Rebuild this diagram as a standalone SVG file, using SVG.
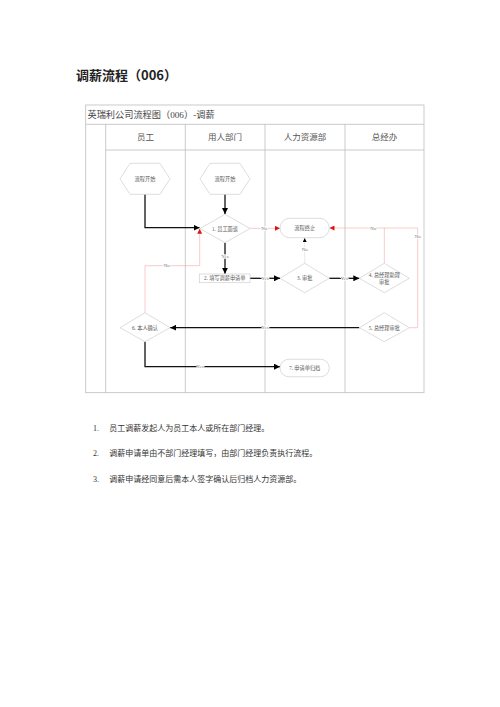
<svg xmlns="http://www.w3.org/2000/svg" width="500" height="707" viewBox="0 0 500 707">
<defs>
<style>
.frame{fill:none;stroke:#bdbdbd;stroke-width:0.8}
.node{fill:#fff;stroke:#cfcfcf;stroke-width:0.7}
.nt{font-family:"Liberation Serif","Noto Sans CJK SC",serif;font-size:5.2px;fill:#555;text-anchor:middle;dominant-baseline:central}
.hd{font-family:"Liberation Serif","Noto Sans CJK SC",serif;font-size:8.5px;fill:#555;text-anchor:middle;dominant-baseline:central}
.blk{fill:none;stroke:#111;stroke-width:1.3}
.red{fill:none;stroke:#f2a8a8;stroke-width:0.6}
.gry{fill:none;stroke:#e6d6d6;stroke-width:0.6}
.lb{font-family:"Liberation Serif","Noto Sans CJK SC",serif;font-size:5px;fill:#777;text-anchor:middle;dominant-baseline:central;stroke:#fff;stroke-width:1.6;paint-order:stroke}
.li{font-family:"Liberation Serif","Noto Sans CJK SC",serif;font-size:8px;fill:#333}
</style>
<marker id="ab" markerUnits="userSpaceOnUse" markerWidth="6" markerHeight="6" viewBox="0 0 10 10" refX="10" refY="5" orient="auto"><path d="M0,0 L10,5 L0,10 z" fill="#000"/></marker>
<marker id="ar" markerUnits="userSpaceOnUse" markerWidth="5" markerHeight="5" viewBox="0 0 10 10" refX="10" refY="5" orient="auto"><path d="M0,0 L10,5 L0,10 z" fill="#e31010"/></marker>
<marker id="as" markerUnits="userSpaceOnUse" markerWidth="4" markerHeight="4" viewBox="0 0 10 10" refX="10" refY="5" orient="auto"><path d="M0,0 L10,5 L0,10 z" fill="#000"/></marker>
</defs>
<rect width="500" height="707" fill="#fff"/>
<text x="76" y="80" font-family="'Noto Sans CJK SC',sans-serif" font-weight="bold" font-size="13" fill="#222">调薪流程（006）</text>

<g id="frame">
<rect class="frame" x="85.7" y="105" width="338.3" height="287.7"/>
<line class="frame" x1="85.7" y1="124.3" x2="424" y2="124.3"/>
<line class="frame" x1="105.7" y1="150" x2="424" y2="150"/>
<line class="frame" x1="105.7" y1="124.3" x2="105.7" y2="392.7"/>
<line class="frame" x1="185.3" y1="124.3" x2="185.3" y2="392.7"/>
<line class="frame" x1="265" y1="124.3" x2="265" y2="392.7"/>
<line class="frame" x1="345" y1="124.3" x2="345" y2="392.7"/>
<text x="87.5" y="115" font-family="'Liberation Serif','Noto Sans CJK SC',serif" font-size="9.2" fill="#444" dominant-baseline="central">英瑞利公司流程图（006）-调薪</text>
<text class="hd" x="145.5" y="137">员工</text>
<text class="hd" x="225" y="137">用人部门</text>
<text class="hd" x="305" y="137">人力资源部</text>
<text class="hd" x="384.5" y="137">总经办</text>
</g>

<g id="connectors">
<path class="blk" d="M145,194.3 V227.7 H199.5" marker-end="url(#ab)"/>
<path class="blk" d="M225,194.3 V214" marker-end="url(#ab)"/>
<path class="red" d="M250,228.3 H280" marker-end="url(#ar)"/>
<text class="lb" x="264.3" y="228.3">No</text>
<path class="blk" d="M225,242.7 V273.8" marker-end="url(#ab)"/>
<text class="lb" x="225" y="256.7">Yes</text>
<path class="blk" d="M250,278.3 H280" marker-end="url(#ab)"/>
<text class="lb" x="265" y="278.3">Yes</text>
<path class="gry" d="M304.7,263.3 V238" marker-end="url(#as)"/>
<text class="lb" x="304.7" y="249.7">No</text>
<path class="blk" d="M329.3,278.3 H359.3" marker-end="url(#ab)"/>
<text class="lb" x="344.3" y="278.3">Yes</text>
<path class="red" d="M384.3,263.3 V228 H329.5" marker-end="url(#ar)"/>
<text class="lb" x="373.3" y="228">No</text>
<path class="red" d="M409.3,327.7 H417.7 V228 H384.3"/>
<text class="lb" x="417.7" y="236.7">No</text>
<path class="blk" d="M359.3,327.7 H170.2" marker-end="url(#ab)"/>
<text class="lb" x="265" y="327.7">Yes</text>
<path class="red" d="M145,312.7 V265.7 H199.7 V228.8" marker-end="url(#ar)"/>
<text class="lb" x="166.7" y="265.7">No</text>
<path class="blk" d="M145,341.7 V366.7 H280" marker-end="url(#ab)"/>
<text class="lb" x="200" y="366.7">Yes</text>
</g>

<g id="start1">
<polygon class="node" points="120,178.8 130,163.3 160,163.3 170,178.8 160,194.3 130,194.3"/>
<text class="nt" x="145" y="178.8">流程开始</text>
</g>
<g id="start2">
<polygon class="node" points="200,178.8 210,163.3 240,163.3 250,178.8 240,194.3 210,194.3"/>
<text class="nt" x="225" y="178.8">流程开始</text>
</g>
<g id="n1">
<polygon class="node" points="200,228.5 225,214.3 250,228.5 225,242.7"/>
<text class="nt" x="225" y="228.5">1. 员工面谈</text>
</g>
<g id="stop">
<rect class="node" x="280" y="218.3" width="49.3" height="19.4" rx="9.7"/>
<text class="nt" x="304.7" y="228">流程终止</text>
</g>
<g id="n2">
<rect class="node" x="199.3" y="274" width="50.7" height="8.7"/>
<text class="nt" x="224.7" y="278.4">2. 填写调薪申请单</text>
</g>
<g id="n3">
<polygon class="node" points="280,278.3 304.7,263.3 329.3,278.3 304.7,292.7"/>
<text class="nt" x="304.7" y="278.3">3. 审批</text>
</g>
<g id="n4">
<polygon class="node" points="359.3,278.3 384.3,263.3 409.3,278.3 384.3,292.7"/>
<text class="nt" x="384.3" y="275">4. 总经理助理</text>
<text class="nt" x="384.3" y="281.5">审批</text>
</g>
<g id="n5">
<polygon class="node" points="359.3,327.7 384.3,312.7 409.3,327.7 384.3,341.7"/>
<text class="nt" x="384.3" y="327.7">5. 总经理审批</text>
</g>
<g id="n6">
<polygon class="node" points="120,327.7 145,312.7 170,327.7 145,341.7"/>
<text class="nt" x="145" y="327.7">6. 本人确认</text>
</g>
<g id="n7">
<rect class="node" x="280" y="359.3" width="49.3" height="17.4" rx="8.7"/>
<text class="nt" x="304.7" y="368">7. 申请单归档</text>
</g>

<g id="notes">
<text class="li" x="93" y="431">1.</text>
<text class="li" x="109.3" y="431">员工调薪发起人为员工本人或所在部门经理。</text>
<text class="li" x="93" y="456">2.</text>
<text class="li" x="109.3" y="456">调薪申请单由不部门经理填写，由部门经理负责执行流程。</text>
<text class="li" x="93" y="482">3.</text>
<text class="li" x="109.3" y="482">调薪申请经同意后需本人签字确认后归档人力资源部。</text>
</g>
</svg>
